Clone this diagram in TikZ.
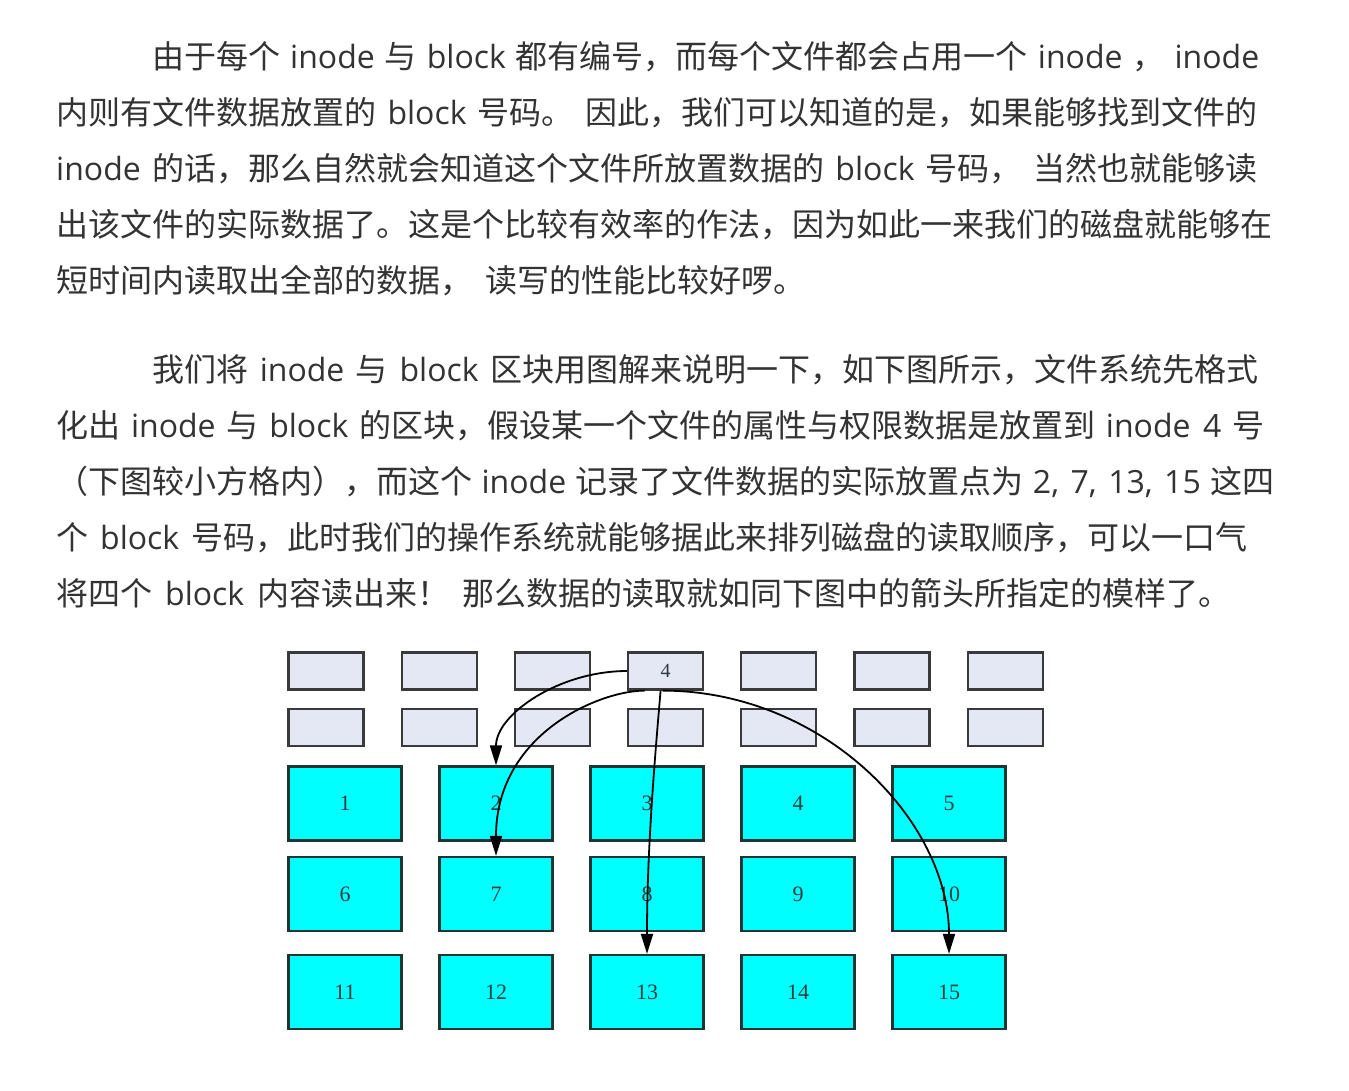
\documentclass[tikz,border=0pt]{standalone}
\usepackage{fontspec}
\setmainfont{Noto Sans CJK SC}
\newfontfamily\cjk{Noto Sans CJK SC}
\newfontfamily\lat{Open Sans}
\newfontfamily\tms{Liberation Serif}
\usetikzlibrary{arrows.meta}
\newcommand\en[1]{{\lat #1}}
\newcommand\linew[2]{\makebox[#1pt][s]{#2}}
\definecolor{txtgray}{HTML}{333333}
\definecolor{lav}{HTML}{E4E7F4}
\definecolor{lavborder}{HTML}{3A3A3A}
\definecolor{cyanfill}{HTML}{00FFFF}
\definecolor{cyanborder}{HTML}{1C3535}
\definecolor{lbl}{HTML}{2A3C3C}
\tikzset{
  txt/.style={anchor=base west, inner sep=0pt, text=txtgray, font=\cjk\fontsize{32pt}{40pt}\selectfont},
  inodebox/.style={draw=lavborder, fill=lav, line width=2.2pt, minimum width=75pt, minimum height=37pt, inner sep=0pt, text=lbl, font=\tms\fontsize{20pt}{24pt}\selectfont},
  blockbox/.style={draw=cyanborder, fill=cyanfill, line width=2.2pt, minimum width=113pt, minimum height=74pt, inner sep=0pt, text=lbl, font=\tms\fontsize{22pt}{26pt}\selectfont},
  arr/.style={draw=black, line width=1.8pt, -{Triangle[length=20pt,width=12pt]}}
}
\begin{document}
\begin{tikzpicture}[x=1pt,y=-1pt]
\useasboundingbox[fill=white] (0,0) rectangle (1349,1090);
% paragraph 1
\node[txt] (p1l1) at (152,68) {\linew{1107}{由于每个 \en{inode} 与 \en{block} 都有编号，而每个文件都会占用一个 \en{inode} ， \en{inode}}};
\node[txt] (p1l2) at (56,124) {\linew{1201}{内则有文件数据放置的 \en{block} 号码。 因此，我们可以知道的是，如果能够找到文件的}};
\node[txt] (p1l3) at (56,180) {\linew{1201}{\en{inode} 的话，那么自然就会知道这个文件所放置数据的 \en{block} 号码， 当然也就能够读}};
\node[txt] (p1l4) at (56,236) {出该文件的实际数据了。这是个比较有效率的作法，因为如此一来我们的磁盘就能够在};
\node[txt] (p1l5) at (56,292) {短时间内读取出全部的数据，\hspace{13pt}读写的性能比较好啰。};
% paragraph 2
\node[txt] (p2l1) at (152,381) {\linew{1106}{我们将 \en{inode} 与 \en{block} 区块用图解来说明一下，如下图所示，文件系统先格式}};
\node[txt] (p2l2) at (56,437) {\linew{1208}{化出 \en{inode} 与 \en{block} 的区块，假设某一个文件的属性与权限数据是放置到 \en{inode 4} 号}};
\node[txt] (p2l3) at (56,493) {\linew{1218}{（下图较小方格内），而这个 \en{inode} 记录了文件数据的实际放置点为 \en{2, 7, 13, 15} 这四}};
\node[txt] (p2l4) at (56,549) {\linew{1191}{个 \en{block} 号码，此时我们的操作系统就能够据此来排列磁盘的读取顺序，可以一口气}};
\node[txt] (p2l5) at (56,605) {\linew{1174}{将四个 \en{block} 内容读出来！ 那么数据的读取就如同下图中的箭头所指定的模样了。}};
% inode table
\foreach \k in {1,...,7} {
  \node[inodebox] (ia\k) at ({326+113.2*(\k-1)},671) {};
  \node[inodebox] (ib\k) at ({326+113.2*(\k-1)},727.5) {};
}
\node[font=\tms\fontsize{20pt}{24pt}\selectfont, text=lbl, inner sep=0pt] (ia4lbl) at (ia4) {4};
% blocks
\foreach \r/\y in {0/803.5,1/894,2/992} {
  \foreach \c in {1,...,5} {
    \pgfmathtruncatemacro\n{\r*5+\c}
    \node[blockbox] (b\n) at ({345+151*(\c-1)},\y) {\n};
  }
}
% arrows
\draw[arr] (ia4.west) .. controls +(-68,0) and +(0,-51) .. (b2.north);
\draw[arr] ([xshift=-21pt]ia4.south) .. controls +(-45,0) and +(0,-122) .. (b7.north);
\draw[arr] ([xshift=-5pt]ia4.south) .. controls +(-6,70) and +(0,-104) .. (b13.north);
\draw[arr] ([xshift=-3pt]ia4.south) .. controls +(160,0) and +(0,-134) .. (b15.north);
\end{tikzpicture}
\end{document}
